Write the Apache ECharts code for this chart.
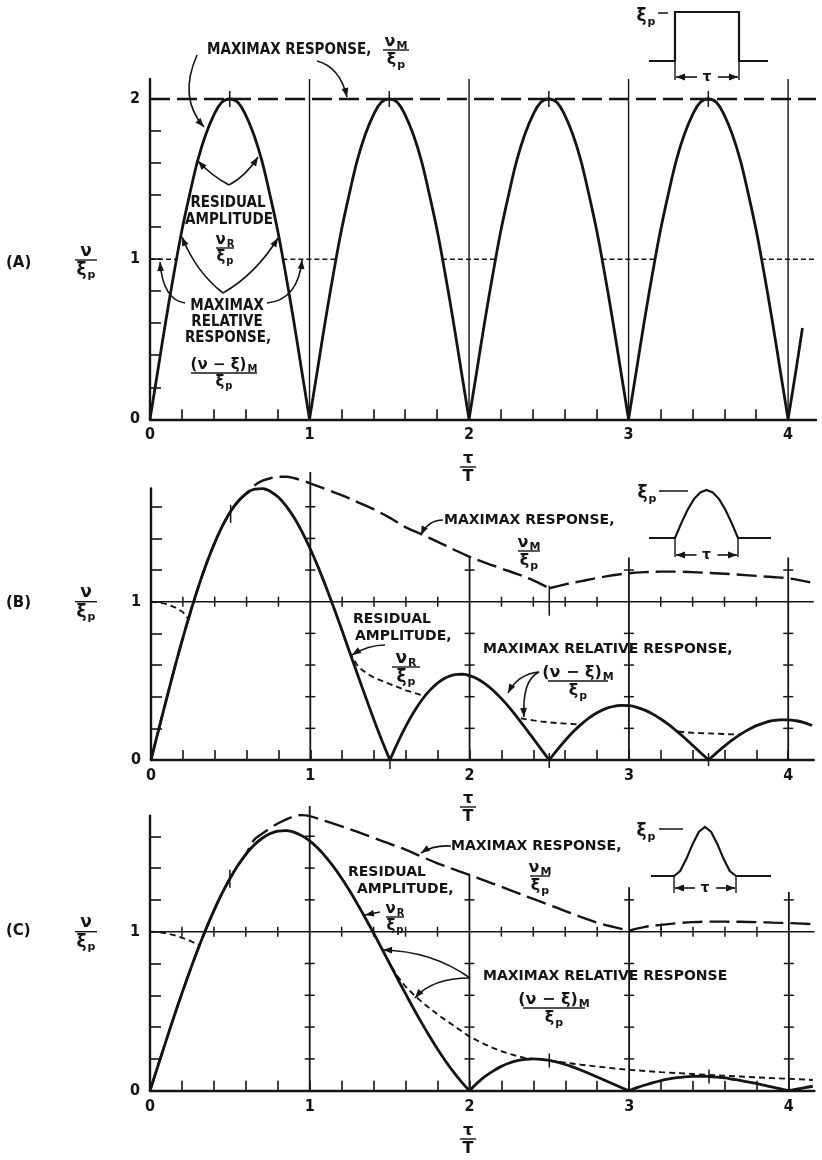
<!DOCTYPE html>
<html>
<head>
<meta charset="utf-8">
<script src="https://cdn.jsdelivr.net/npm/echarts@6/dist/echarts.min.js"></script>
<style>
  html, body { margin: 0; padding: 0; background: #fff; }
  #chart { width: 822px; height: 1160px; }
</style>
</head>
<body>
<div id="chart"></div>
<script>
// ---------------------------------------------------------------------------
// Shock-spectrum data: residual amplitude, maximax response and maximax
// relative response versus pulse duration ratio tau/T for three pulse shapes.
// ---------------------------------------------------------------------------

// tau/T sampling (step 0.05) used by the residual-amplitude curves
const TAU = [0,0.05,0.1,0.15,0.2,0.25,0.3,0.35,0.4,0.45,
  0.5,0.55,0.6,0.65,0.7,0.75,0.8,0.85,0.9,0.95,
  1,1.05,1.1,1.15,1.2,1.25,1.3,1.35,1.4,1.45,
  1.5,1.55,1.6,1.65,1.7,1.75,1.8,1.85,1.9,1.95,
  2,2.05,2.1,2.15,2.2,2.25,2.3,2.35,2.4,2.45,
  2.5,2.55,2.6,2.65,2.7,2.75,2.8,2.85,2.9,2.95,
  3,3.05,3.1,3.15,3.2,3.25,3.3,3.35,3.4,3.45,
  3.5,3.55,3.6,3.65,3.7,3.75,3.8,3.85,3.9,3.95,
  4,4.05,4.1,4.15];

// (A) rectangular pulse
const residualA = [
  0,0.31,0.62,0.91,1.18,1.41,1.62,1.78,1.90,1.98,2.00,1.98,1.90,1.78,1.62,1.41,1.18,0.91,0.62,0.31,
  0,0.31,0.62,0.91,1.18,1.41,1.62,1.78,1.90,1.98,2.00,1.98,1.90,1.78,1.62,1.41,1.18,0.91,0.62,0.31,
  0,0.31,0.62,0.91,1.18,1.41,1.62,1.78,1.90,1.98,2.00,1.98,1.90,1.78,1.62,1.41,1.18,0.91,0.62,0.31,
  0,0.31,0.62,0.91,1.18,1.41,1.62,1.78,1.90,1.98,2.00,1.98,1.90,1.78,1.62,1.41,1.18,0.91,0.62,0.31,
  0,0.31];
const residualAEnd = [4.09, 0.57];
const maxResponseA = [[0, 2], [4.175, 2]];
const maxRelativeA = [[0,1],[0.17,1],[0.5,'-'],[0.83,1],[1.17,1],[1.5,'-'],[1.83,1],[2.17,1],
  [2.5,'-'],[2.83,1],[3.17,1],[3.5,'-'],[3.83,1],[4.175,1]];

// (B) half-sine pulse
const residualB = [
  0,0.200,0.396,0.588,0.771,0.943,1.102,1.246,1.373,1.482,1.571,1.638,1.685,1.711,1.714,1.697,1.660,1.603,1.529,1.438,
  1.333,1.217,1.090,0.955,0.816,0.673,0.531,0.390,0.253,0.122,0,0.113,0.214,0.303,0.379,0.440,0.487,0.520,0.538,0.542,
  0.533,0.512,0.480,0.438,0.388,0.331,0.268,0.202,0.135,0.067,0,0.064,0.123,0.178,0.225,0.266,0.298,0.323,0.338,0.345,
  0.343,0.333,0.315,0.290,0.259,0.223,0.182,0.139,0.093,0.046,0,0.045,0.088,0.127,0.162,0.192,0.217,0.235,0.248,0.254,
  0.254,0.248,0.236,0.218];
const maxResponseBTail = [[0.65,1.735],[0.7,1.765],[0.75,1.78],[0.8,1.79],[0.85,1.79],[0.9,1.78],
  [0.95,1.765],[1.0,1.748],[1.1,1.71],[1.2,1.672],[1.3,1.628],[1.4,1.583],[1.5,1.53],[1.6,1.47],
  [1.7,1.425],[1.8,1.378],[1.9,1.33],[2.0,1.284],[2.1,1.245],[2.2,1.21],[2.3,1.175],[2.4,1.135],
  [2.5,1.085],[2.6,1.11],[2.7,1.13],[2.8,1.15],[2.9,1.167],[3.0,1.18],[3.1,1.187],[3.2,1.19],
  [3.3,1.19],[3.4,1.187],[3.5,1.182],[3.6,1.177],[3.7,1.17],[3.8,1.163],[3.9,1.156],[4.0,1.148],
  [4.1,1.13],[4.15,1.12]];
const maxRelativeBHead = [[0,1.0],[0.05,0.995],[0.1,0.985],[0.15,0.965],[0.2,0.935],[0.235,0.89]];
const maxRelativeBGap1 = [[1.3,0.59],[1.35,0.55],[1.4,0.52],[1.45,0.50],[1.5,0.48],[1.55,0.46],
  [1.6,0.44],[1.65,0.425],[1.7,0.41],[1.72,0.41]];
const maxRelativeBGap2 = [[2.35,0.258],[2.4,0.25],[2.45,0.243],[2.5,0.238],[2.55,0.233],[2.6,0.23],[2.65,0.227]];
const maxRelativeBGap3 = [[3.35,0.175],[3.4,0.172],[3.45,0.17],[3.5,0.168],[3.55,0.166],[3.6,0.164],[3.65,0.162]];

// (C) versed-sine pulse
const residualC = [
  0,0.157,0.312,0.465,0.612,0.754,0.889,1.015,1.132,1.239,1.333,1.416,1.486,1.543,1.586,1.616,1.633,1.636,1.626,1.604,
  1.571,1.526,1.471,1.408,1.336,1.257,1.172,1.083,0.991,0.896,0.800,0.704,0.610,0.517,0.428,0.343,0.262,0.187,0.118,0.056,
  0,0.049,0.091,0.125,0.153,0.174,0.189,0.197,0.200,0.197,0.190,0.180,0.165,0.148,0.129,0.108,0.086,0.064,0.042,0.020,
  0,0.019,0.036,0.051,0.064,0.074,0.082,0.087,0.090,0.091,0.089,0.085,0.080,0.072,0.064,0.054,0.044,0.033,0.022,0.011,
  0,0.010,0.020,0.028];
const maxResponseCTail = [[0.65,1.575],[0.7,1.615],[0.75,1.65],[0.8,1.68],[0.85,1.705],[0.9,1.725],
  [0.95,1.733],[1.0,1.727],[1.1,1.695],[1.2,1.662],[1.3,1.627],[1.4,1.59],[1.5,1.553],[1.6,1.516],
  [1.7,1.472],[1.8,1.43],[1.9,1.393],[2.0,1.357],[2.1,1.32],[2.2,1.282],[2.3,1.244],[2.4,1.206],
  [2.5,1.168],[2.6,1.13],[2.7,1.092],[2.8,1.057],[2.9,1.03],[3.0,1.006],[3.1,1.03],[3.2,1.043],
  [3.3,1.053],[3.4,1.06],[3.5,1.063],[3.6,1.063],[3.7,1.062],[3.8,1.06],[3.9,1.057],[4.0,1.054],
  [4.15,1.048]];
const maxRelativeCHead = [[0,1.0],[0.05,0.998],[0.1,0.99],[0.15,0.978],[0.2,0.962],[0.25,0.943],[0.31,0.915]];
const maxRelativeCTail = [[1.5,0.80],[1.55,0.72],[1.6,0.655],[1.65,0.605],[1.7,0.56],[1.75,0.52],
  [1.8,0.48],[1.85,0.445],[1.9,0.41],[1.95,0.375],[2.0,0.34],[2.05,0.315],[2.1,0.29],[2.15,0.268],
  [2.2,0.248],[2.25,0.232],[2.3,0.218],[2.35,0.205],[2.4,0.20],[2.45,0.197],[2.5,0.19],[2.6,0.176],
  [2.7,0.163],[2.8,0.152],[2.9,0.141],[3.0,0.131],[3.1,0.124],[3.2,0.117],[3.3,0.111],[3.4,0.105],
  [3.5,0.099],[3.6,0.094],[3.7,0.089],[3.8,0.084],[3.9,0.079],[4.0,0.075],[4.1,0.07],[4.15,0.067]];

// pulse shapes for the inset sketches (time in units of pulse length)
const PULSE_T = [0,0.1,0.2,0.3,0.4,0.5,0.6,0.7,0.8,0.9,1];
const pulseRect = [1,1,1,1,1,1,1,1,1,1,1];
const pulseHalfSine = [0,0.31,0.59,0.81,0.95,1,0.95,0.81,0.59,0.31,0];
const pulseVersedSine = [0,0.10,0.35,0.65,0.90,1,0.90,0.65,0.35,0.10,0];

// axis labels
const X_TICK_LABELS = [0, 1, 2, 3, 4];
const Y_TICK_LABELS_A = [0, 1, 2];
const Y_TICK_LABELS_BC = [0, 1];

// ---------------------------------------------------------------------------
const INK = '#141414';
const FONT = '"DejaVu Sans", sans-serif';
const FONT_NARROW = '"DejaVu Sans Condensed", "DejaVu Sans", sans-serif';

const pairs = (xs, ys, from, to) => ys.slice(from, to).map((y, i) => [xs[from + i], y]);
const residualPairs = ys => pairs(TAU, ys, 0, ys.length);
const between = (ys, x0, x1) => TAU.map((t, i) => [t, ys[i]])
  .filter(p => p[0] >= x0 - 1e-9 && p[0] <= x1 + 1e-9 && p[1] !== undefined);
// break a smoothed path at its cusps so that each lobe keeps a sharp corner
function splitAt(data, cuts) {
  const out = [];
  data.forEach(p => {
    out.push(p);
    if (cuts.some(c => Math.abs(c - p[0]) < 1e-9)) { out.push([p[0], '-']); out.push(p); }
  });
  return out;
}

const seriesA = {
  residual: splitAt(residualPairs(residualA).concat([residualAEnd]), [1, 2, 3, 4]),
  maxResp: maxResponseA,
  maxRel: maxRelativeA
};
const seriesB = {
  residual: splitAt(residualPairs(residualB), [1.5, 2.5, 3.5]),
  maxResp: splitAt(between(residualB, 0, 0.6).concat(maxResponseBTail), [2.5]),
  maxRel: maxRelativeBHead.concat(between(residualB, 0.25, 1.25), maxRelativeBGap1,
    between(residualB, 1.75, 2.3), maxRelativeBGap2, between(residualB, 2.7, 3.3),
    maxRelativeBGap3, between(residualB, 3.7, 4.15))
};
const seriesC = {
  residual: splitAt(residualPairs(residualC), [2, 3, 4]),
  maxResp: splitAt(between(residualC, 0, 0.6).concat(maxResponseCTail), [3]),
  maxRel: maxRelativeCHead.concat(between(residualC, 0.35, 1.45), maxRelativeCTail)
};

// ---------------------------------------------------------------------------
// axes
const step = (a, b, d) => { const out = []; for (let v = a; v <= b + 1e-9; v += d) out.push(Math.round(v * 1000) / 1000); return out; };
const X_MINOR = step(0.2, 4.0, 0.2);

function mainX(gi, max) {
  return {
    type: 'value', gridIndex: gi, min: 0, max,
    axisLine: { show: true, onZero: false, lineStyle: { color: INK, width: 2.4 } },
    axisTick: { show: true, inside: true, length: 10, customValues: X_MINOR, lineStyle: { color: INK, width: 1.6 } },
    axisLabel: { show: true, customValues: X_TICK_LABELS, color: INK, fontSize: 16, fontWeight: 'bold',
      fontFamily: FONT_NARROW, margin: 8, formatter: v => String(Math.round(v)) },
    splitLine: { show: false }
  };
}
function mainY(gi, max, labels, tickTop) {
  return {
    type: 'value', gridIndex: gi, min: 0, max,
    axisLine: { show: true, onZero: false, lineStyle: { color: INK, width: 2.4 } },
    axisTick: { show: true, inside: true, length: 11, customValues: step(0.2, tickTop, 0.2), lineStyle: { color: INK, width: 1.6 } },
    axisLabel: { show: true, customValues: labels, color: INK, fontSize: 16, fontWeight: 'bold',
      fontFamily: FONT_NARROW, margin: 10, formatter: v => String(Math.round(v)) },
    splitLine: { show: false }
  };
}
const hidden = (gi, min, max) => ({ type: 'value', gridIndex: gi, min, max, show: false });

// ---------------------------------------------------------------------------
// guide lines drawn in data space (integer tau/T verticals, unit line, cross ticks)
function guide(gi, spec) {
  return {
    type: 'custom', xAxisIndex: gi, yAxisIndex: gi, data: [[0, 0]], silent: true, z: 1, clip: false,
    renderItem: (params, api) => {
      const kids = [];
      const seg = (a, b, w) => kids.push({ type: 'line', shape: { x1: a[0], y1: a[1], x2: b[0], y2: b[1] },
        style: { stroke: INK, lineWidth: w } });
      spec.lines.forEach(([x1, y1, x2, y2, w]) => seg(api.coord([x1, y1]), api.coord([x2, y2]), w));
      spec.vticks.forEach(([x, y, up, down]) => { const p = api.coord([x, y]); seg([p[0], p[1] - up], [p[0], p[1] + down], 1.5); });
      spec.hticks.forEach(([x, y, h]) => { const p = api.coord([x, y]); seg([p[0] - h, p[1]], [p[0] + h, p[1]], 1.5); });
      return { type: 'group', children: kids };
    }
  };
}
function crossGuides(verticals, xmax, extra) {
  const lines = [[0, 1, xmax, 1, 1.6]];
  const vticks = X_MINOR.filter(x => Math.abs(x - Math.round(x)) > 1e-6).map(x => [x, 1, 5, 5]).concat(extra);
  const hticks = [];
  verticals.forEach(([x, top]) => {
    lines.push([x, 0, x, top, 1.8]);
    step(0.2, top - 0.03, 0.2).filter(y => Math.abs(y - 1) > 1e-6).forEach(y => hticks.push([x, y, 5]));
  });
  return { lines, vticks, hticks };
}
const guideA = {
  lines: [1, 2, 3, 4].map(x => [x, 0, x, 2.125, 1.4]),
  vticks: [[0.5, 2, 8, 8], [1.5, 2, 8, 8], [2.5, 2, 8, 8], [3.5, 2, 8, 8]],
  hticks: []
};
const guideB = crossGuides([[1, 1.82], [2, 1.29], [3, 1.28], [4, 1.28]], 4.16,
  [[0.5, 1.555, 9, 9], [2.5, 1.0, 16, 14], [1.5, 0, 3, 9], [2.5, 0, 7, 8], [3.5, 0, 7, 6]]);
const guideC = crossGuides([[1, 1.79], [2, 1.36], [3, 1.28], [4, 1.25]], 4.16,
  [[0.5, 1.333, 9, 9], [2.5, 0.19, 7, 7], [3.5, 0.09, 7, 7], [3.2, 1.02, 5, 5]]);

// ---------------------------------------------------------------------------
const SOLID = { color: INK, width: 2.8, join: 'round' };
const LONG_DASH = { color: INK, width: 2.4, type: [20, 7] };
const SHORT_DASH = { color: INK, width: 1.9, type: [6, 4] };

function curve(gi, data, lineStyle, z, smooth) {
  return { type: 'line', xAxisIndex: gi, yAxisIndex: gi, data, showSymbol: false, symbol: 'none',
    clip: false, silent: true, z, lineStyle, connectNulls: false, smooth: smooth || false };
}
const pulse = (gi, vals, x0, x1) => curve(gi,
  [[x0, 0], [0, 0]].concat(PULSE_T.map((t, i) => [t, vals[i]]), [[1, 0], [x1, 0]]),
  { color: INK, width: 2.2, join: 'miter' }, 3);

// ---------------------------------------------------------------------------
// annotation text, fractions and arrows
const graphics = [];
const mctx = document.createElement('canvas').getContext('2d');
const measure = (s, size, fam) => { mctx.font = 'bold ' + size + 'px ' + (fam || FONT); return mctx.measureText(s).width; };

function addText(x, y, s, size, align, vAlign, fam) {
  graphics.push({ type: 'text', z: 100, silent: true, x, y,
    style: { text: s, fontSize: size, fontFamily: fam || FONT, fontWeight: 'bold', fill: INK,
      align: align || 'left', verticalAlign: vAlign || 'middle',
      textAlign: align || 'left', textVerticalAlign: vAlign || 'middle' } });
}
function addLine(x1, y1, x2, y2, w) {
  graphics.push({ type: 'line', z: 100, silent: true, shape: { x1, y1, x2, y2 }, style: { stroke: INK, lineWidth: w || 1.4 } });
}
// symbol with optional subscript, centred on cx
function sym(cx, y, main, sub, size) {
  const subSize = Math.round(size * 0.66);
  const w1 = measure(main, size), w2 = sub ? measure(sub, subSize) + 1 : 0;
  const x0 = cx - (w1 + w2) / 2;
  addText(x0, y, main, size, 'left', 'middle');
  if (sub) addText(x0 + w1 + 1, y + size * 0.3, sub, subSize, 'left', 'middle');
}
function frac(cx, barY, num, den, half, size) {
  addLine(cx - half, barY, cx + half, barY, 1.4);
  sym(cx, barY - size * 0.52, num[0], num[1], size);
  sym(cx, barY + size * 0.62, den[0], den[1], size);
}
function arrow(x1, y1, cx, cy, x2, y2) {
  graphics.push({ type: 'bezierCurve', z: 100, silent: true,
    shape: { x1, y1, x2, y2, cpx1: cx, cpy1: cy }, style: { stroke: INK, lineWidth: 1.6, fill: 'none' } });
  const a = Math.atan2(y2 - cy, x2 - cx), L = 9, W = 3.4;
  const bx = x2 - L * Math.cos(a), by = y2 - L * Math.sin(a), nx = -Math.sin(a), ny = Math.cos(a);
  graphics.push({ type: 'polygon', z: 101, silent: true,
    shape: { points: [[x2, y2], [bx + W * nx, by + W * ny], [bx - W * nx, by - W * ny]] }, style: { fill: INK } });
}
const straight = (x1, y1, x2, y2) => arrow(x1, y1, (x1 + x2) / 2, (y1 + y2) / 2, x2, y2);
function dimension(xl, xr, yBase, yArrow, yEnd) {
  addLine(xl, yBase, xl, yEnd, 1.4);
  addLine(xr, yBase, xr, yEnd, 1.4);
  const cx = (xl + xr) / 2;
  straight(cx - 10, yArrow, xl + 1, yArrow);
  straight(cx + 11, yArrow, xr - 1, yArrow);
  addText(cx, yArrow, 'τ', 14, 'center', 'middle');
}
const label = (x, y, s, size, align, fam) => addText(x, y, s, size, align || 'left', 'middle', fam);

const NU = ['ν', ''], XI_P = ['ξ', 'p'];
// panel tags and axis titles
[['(A)', 263, 260], ['(B)', 603, 601.7], ['(C)', 931, 931.7]].forEach(([tag, ty, barY]) => {
  label(6, ty, tag, 15, 'left', FONT);
  frac(86, barY, NU, XI_P, 11, 17);
});
[467, 807, 1139].forEach(barY => frac(468, barY, ['τ', ''], ['T', ''], 8, 16));

// (A) labels
label(207, 50, 'MAXIMAX RESPONSE,', 15, 'left', FONT_NARROW);
frac(396, 50, ['ν', 'M'], XI_P, 13, 16);
arrow(197, 55, 178, 98, 204, 127);
arrow(317, 61, 340, 67, 347, 97);
label(228, 203, 'RESIDUAL', 15, 'center', FONT_NARROW);
label(229, 220, 'AMPLITUDE', 15, 'center', FONT_NARROW);
frac(225, 248, ['ν', 'R'], XI_P, 9, 15);
arrow(229, 185, 212, 176, 198, 161);
arrow(229, 185, 246, 176, 258, 157);
arrow(223, 293, 196, 272, 182, 237);
arrow(223, 293, 256, 274, 278, 238);
label(227, 306, 'MAXIMAX', 15, 'center', FONT_NARROW);
label(227, 322, 'RELATIVE', 15, 'center', FONT_NARROW);
label(228, 338, 'RESPONSE,', 15, 'center', FONT_NARROW);
frac(224, 373, ['(ν − ξ)', 'M'], XI_P, 33, 15);
arrow(185, 303, 163, 300, 160, 262);
arrow(267, 303, 298, 300, 302, 260);

// (B) labels
label(444, 520, 'MAXIMAX RESPONSE,', 14);
frac(529, 551, ['ν', 'M'], XI_P, 11, 16);
arrow(443, 520, 428, 520, 421, 535);
label(353, 619, 'RESIDUAL', 14);
label(355, 636, 'AMPLITUDE,', 14);
frac(406, 667, ['ν', 'R'], XI_P, 14, 17);
arrow(385, 645, 368, 645, 352, 655);
label(483, 649, 'MAXIMAX RELATIVE RESPONSE,', 14);
frac(578, 681, ['(ν − ξ)', 'M'], XI_P, 30, 16);
arrow(539, 672, 518, 674, 508, 693);
arrow(539, 672, 522, 680, 524, 717);

// (C) labels
label(451, 846, 'MAXIMAX RESPONSE,', 14);
frac(540, 876, ['ν', 'M'], XI_P, 10, 16);
arrow(451, 846, 433, 845, 421, 853);
label(348, 872, 'RESIDUAL', 14);
label(357, 889, 'AMPLITUDE,', 14);
frac(395, 917, ['ν', 'R'], XI_P, 9, 15);
straight(380, 912, 365, 915);
label(483, 976, 'MAXIMAX RELATIVE RESPONSE', 14);
frac(554, 1008, ['(ν − ξ)', 'M'], XI_P, 31, 16);
arrow(470, 978, 432, 951, 383, 950);
arrow(470, 978, 432, 978, 415, 998);

// inset pulse sketches: level marker, label and duration dimension
sym(646, 17, 'ξ', 'p', 17); addLine(658, 13, 668, 13, 1.5); dimension(675, 739, 61, 77, 80);
sym(647, 494, 'ξ', 'p', 17); addLine(659, 491, 688, 491, 1.5); dimension(675, 738, 538, 555, 557);
sym(646, 832, 'ξ', 'p', 17); addLine(659, 829, 683, 829, 1.5); dimension(674, 736, 876, 888, 893);

// ---------------------------------------------------------------------------
const option = {
  animation: false,
  backgroundColor: '#fff',
  grid: [
    { left: 150, top: 79, width: 666, height: 340.3 },
    { left: 151, top: 488.4, width: 662.7, height: 271.6 },
    { left: 150, top: 815.6, width: 664.4, height: 275.1 },
    { left: 649, top: 12, width: 119, height: 49 },
    { left: 649, top: 490, width: 122, height: 48 },
    { left: 651, top: 827, width: 120, height: 49 }
  ],
  xAxis: [
    mainX(0, 4.175), mainX(1, 4.16), mainX(2, 4.16),
    hidden(3, -0.406, 1.453), hidden(4, -0.413, 1.524), hidden(5, -0.371, 1.565)
  ],
  yAxis: [
    mainY(0, 2.125, Y_TICK_LABELS_A, 2.0), mainY(1, 1.716, Y_TICK_LABELS_BC, 1.6), mainY(2, 1.73, Y_TICK_LABELS_BC, 1.6),
    hidden(3, 0, 1), hidden(4, 0, 1), hidden(5, 0, 1)
  ],
  series: [
    guide(0, guideA), guide(1, guideB), guide(2, guideC),
    curve(0, seriesA.maxResp, LONG_DASH, 2),
    curve(0, seriesA.maxRel, { color: INK, width: 1.5, type: [5, 3] }, 2),
    curve(0, seriesA.residual, SOLID, 3, 0.4),
    curve(1, seriesB.maxResp, LONG_DASH, 2, 0.4),
    curve(1, seriesB.maxRel, SHORT_DASH, 2),
    curve(1, seriesB.residual, SOLID, 3, 0.4),
    curve(2, seriesC.maxResp, LONG_DASH, 2, 0.4),
    curve(2, seriesC.maxRel, SHORT_DASH, 2),
    curve(2, seriesC.residual, SOLID, 3, 0.4),
    pulse(3, pulseRect, -0.406, 1.453),
    pulse(4, pulseHalfSine, -0.413, 1.524),
    pulse(5, pulseVersedSine, -0.371, 1.565)
  ],
  graphic: { elements: graphics }
};

const chart = echarts.init(document.getElementById('chart'), null, { renderer: 'canvas' });
chart.setOption(option);
</script>
</body>
</html>
